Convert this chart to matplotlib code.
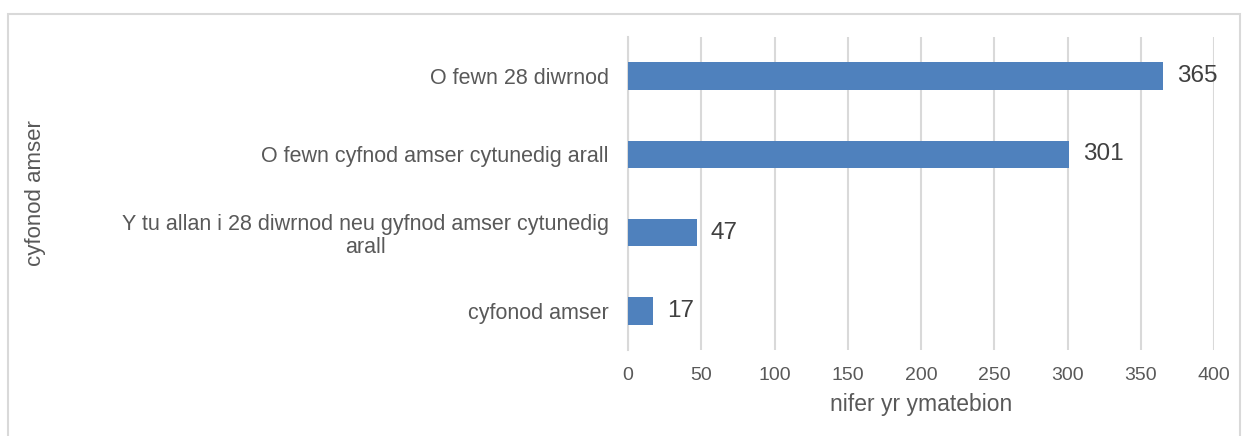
import matplotlib
matplotlib.use("Agg")
import matplotlib.pyplot as plt
from matplotlib.patches import Rectangle

categories = [
    "cyfonod amser",
    "Y tu allan i 28 diwrnod neu gyfnod amser cytunedig\narall",
    "O fewn cyfnod amser cytunedig arall",
    "O fewn 28 diwrnod",
]
values = [17, 47, 301, 365]
x_ticks = [0, 50, 100, 150, 200, 250, 300, 350, 400]

plt.rcParams['font.family'] = ['Liberation Sans', 'DejaVu Sans']
text_col = "#595959"
grid_col = "#D9D9D9"
bar_col = "#4F81BD"

fig = plt.figure(figsize=(12.48, 4.36), dpi=100)
ax = fig.add_axes([628 / 1248, 1 - 350 / 436, (1214 - 628) / 1248, (350 - 37) / 436])

pos = list(range(len(categories)))
ax.barh(pos, values, height=0.35, color=bar_col, zorder=3)

for p, v in zip(pos, values):
    ax.annotate(str(v), (v, p), xytext=(10, 0), textcoords="offset points",
                ha="left", va="center", fontsize=17.5, color="#404040")

ax.set_xlim(0, 400)
ax.set_ylim(-0.5, len(categories) - 0.5)
ax.set_xticks(x_ticks)
ax.set_xticklabels([str(t) for t in x_ticks], fontsize=14, color=text_col)
ax.set_yticks(pos)
ax.set_yticklabels(categories, fontsize=15.5, color=text_col, linespacing=1.1)
for lbl in ax.get_yticklabels():
    lbl.set_multialignment("center")
ax.tick_params(axis="both", length=0)
ax.tick_params(axis="x", pad=12)
ax.tick_params(axis="y", pad=14)

ax.grid(axis="x", color=grid_col, linewidth=1.5, zorder=0)
for s in ["top", "right", "bottom"]:
    ax.spines[s].set_visible(False)
ax.spines["left"].set_color(grid_col)
ax.spines["left"].set_linewidth(1.5)

ax.set_xlabel("nifer yr ymatebion", fontsize=16.5, color=text_col, labelpad=7)
ax.set_ylabel("cyfonod amser", fontsize=16, color=text_col, va="center")
ax.yaxis.set_label_coords(36 / 1248, 1 - 193 / 436, transform=fig.transFigure)

# light frame round the chart area
fig.patches.append(Rectangle((8 / 1248, -0.1), (1240 - 8) / 1248, 1.1 - 14 / 436,
                             transform=fig.transFigure, fill=False,
                             edgecolor=grid_col, linewidth=1.5))

fig.savefig("out.png", dpi=100)
